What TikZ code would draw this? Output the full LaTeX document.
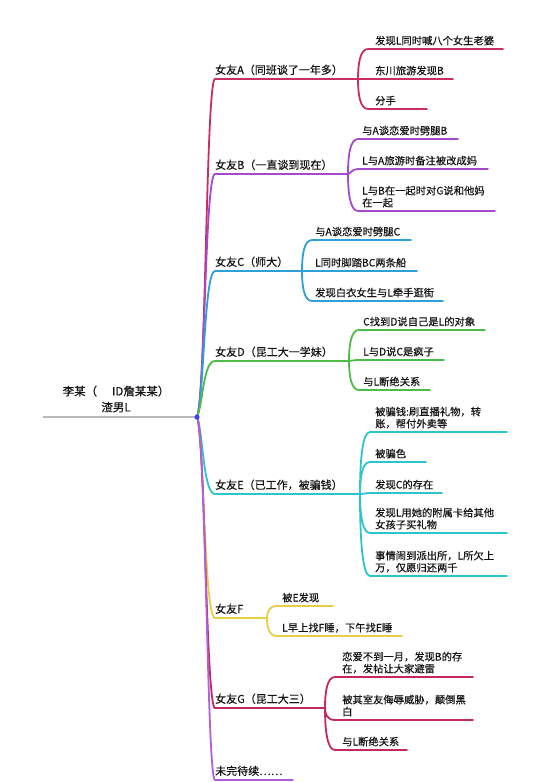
\documentclass[tikz,border=0pt]{standalone}
\usepackage{fontspec}
\setmainfont{Noto Sans CJK SC}[FakeBold=0.35]
\usepackage{xcolor}
\usepackage{tikz}
\usetikzlibrary{positioning, calc}
\definecolor{girlA}{RGB}{200, 45, 100}
\definecolor{girlB}{RGB}{166, 74, 205}
\definecolor{girlC}{RGB}{46, 160, 215}
\definecolor{girlD}{RGB}{77, 187, 71}
\definecolor{girlE}{RGB}{44, 196, 205}
\definecolor{girlF}{RGB}{230, 207, 69}
\definecolor{girlG}{RGB}{195, 40, 95}
\definecolor{tbc}{RGB}{178, 95, 217}
\definecolor{inktext}{RGB}{20, 20, 20}

\begin{document}
\begin{tikzpicture}[x=1pt, y=-1pt,
    link/.style={line width=1.8pt, line cap=round},
    branch/.style={anchor=base west, inner sep=0pt, text=inktext,
                   font=\fontsize{11}{13}\selectfont},
    leaf/.style={anchor=base west, inner sep=0pt, text=inktext, align=left,
                 font=\fontsize{10.3}{12}\selectfont}]
    \fill[white] (0,0) rectangle (549,782);
    \useasboundingbox (0,0) rectangle (549,782);

    % Root
    \coordinate (hub) at (197,417);
    \coordinate (rootL) at (43,417);
    \draw[line width=1.8pt, gray!55] (rootL) -- (hub);
    \node[align=center, inner sep=0pt, text=inktext,
          font=\fontsize{11.5}{16}\selectfont] (root) at (116,399)
        {李某（\hspace{1.3em}ID詹某某）\\渣男L};

    % 女友A
    \coordinate (hubA) at (358,79);
    \coordinate (a1e) at (503,49);
    \coordinate (a2e) at (453,79);
    \coordinate (a3e) at (427,109);
    \draw[link, girlA] (hub) .. controls (206,397) and (206,79) .. (215,79) -- (hubA);
    \node[branch] (brA) at (215,74) {女友A（同班谈了一年多）};
    \draw[link, girlA] (hubA) .. controls (358,64) and (360,49) .. (368,49) -- (a1e);
    \draw[link, girlA] (hubA) -- (a2e);
    \draw[link, girlA] (hubA) .. controls (358,94) and (360,109) .. (368,109) -- (a3e);
    \node[leaf] (a1) at (375,44.5) {发现L同时喊八个女生老婆};
    \node[leaf] (a2) at (375,74.5) {东川旅游发现B};
    \node[leaf] (a3) at (375,104.5) {分手};

    % 女友B
    \coordinate (hubB) at (348,174);
    \coordinate (b1e) at (458,139);
    \coordinate (b2e) at (488,169);
    \coordinate (b3e) at (495,211);
    \draw[link, girlB] (hub) .. controls (205,397) and (205,174) .. (215,174) -- (hubB);
    \node[branch] (brB) at (215,169) {女友B（一直谈到现在）};
    \draw[link, girlB] (hubB) .. controls (348,156) and (350,139) .. (358,139) -- (b1e);
    \draw[link, girlB] (hubB) .. controls (350,174) and (352,169) .. (358,169) -- (b2e);
    \draw[link, girlB] (hubB) .. controls (348,192) and (350,211) .. (358,211) -- (b3e);
    \node[leaf] (b1) at (362,134.5) {与A谈恋爱时劈腿B};
    \node[leaf] (b2) at (362,164.5) {L与A旅游时备注被改成妈};
    \node[leaf] (b3) at (362,206.5) {L与B在一起时对G说和他妈\\在一起};

    % 女友C
    \coordinate (hubC) at (302,271);
    \coordinate (c1e) at (411,240);
    \coordinate (c2e) at (417,271);
    \coordinate (c3e) at (443,301);
    \draw[link, girlC] (hub) .. controls (204,400) and (204,271) .. (215,271) -- (hubC);
    \node[branch] (brC) at (215,266) {女友C（师大）};
    \draw[link, girlC] (hubC) .. controls (302,255) and (304,240) .. (312,240) -- (c1e);
    \draw[link, girlC] (hubC) -- (c2e);
    \draw[link, girlC] (hubC) .. controls (302,286) and (304,301) .. (312,301) -- (c3e);
    \node[leaf] (c1) at (315,235.5) {与A谈恋爱时劈腿C};
    \node[leaf] (c2) at (315,266.5) {L同时脚踏BC两条船};
    \node[leaf] (c3) at (315,296.5) {发现白衣女生与L牵手逛街};

    % 女友D
    \coordinate (hubD) at (349,361);
    \coordinate (d1e) at (485,330);
    \coordinate (d2e) at (444,360);
    \coordinate (d3e) at (430,390);
    \draw[link, girlD] (hub) .. controls (203,405) and (203,361) .. (215,361) -- (hubD);
    \node[branch] (brD) at (215,356) {女友D（昆工大一学妹）};
    \draw[link, girlD] (hubD) .. controls (349,345) and (351,330) .. (359,330) -- (d1e);
    \draw[link, girlD] (hubD) .. controls (351,361) and (353,360) .. (359,360) -- (d2e);
    \draw[link, girlD] (hubD) .. controls (349,375) and (351,390) .. (359,390) -- (d3e);
    \node[leaf] (d1) at (363,325.5) {C找到D说自己是L的对象};
    \node[leaf] (d2) at (363,355.5) {L与D说C是疯子};
    \node[leaf] (d3) at (363,385.5) {与L断绝关系};

    % 女友E
    \coordinate (hubE) at (360,494);
    \coordinate (e1e) at (507,432);
    \coordinate (e2e) at (426,462);
    \coordinate (e3e) at (442,493);
    \coordinate (e4e) at (507,533);
    \coordinate (e5e) at (507,576);
    \draw[link, girlE] (hub) .. controls (203,430) and (203,494) .. (215,494) -- (hubE);
    \node[branch] (brE) at (215,489) {女友E（已工作，被骗钱）};
    \draw[link, girlE] (hubE) .. controls (360,463) and (362,432) .. (370,432) -- (e1e);
    \draw[link, girlE] (hubE) .. controls (360,478) and (362,462) .. (370,462) -- (e2e);
    \draw[link, girlE] (hubE) .. controls (364,494) and (366,493) .. (370,493) -- (e3e);
    \draw[link, girlE] (hubE) .. controls (360,513) and (362,533) .. (370,533) -- (e4e);
    \draw[link, girlE] (hubE) .. controls (360,535) and (362,576) .. (370,576) -- (e5e);
    \node[leaf] (e1) at (375,427.5) {被骗钱:刷直播礼物，转\\账，帮付外卖等};
    \node[leaf] (e2) at (375,457.5) {被骗色};
    \node[leaf] (e3) at (375,488.5) {发现C的存在};
    \node[leaf] (e4) at (375,528.5) {发现L用她的附属卡给其他\\女孩子买礼物};
    \node[leaf] (e5) at (375,571.5) {事情闹到派出所，L所欠上\\万，仅愿归还两千};

    % 女友F
    \coordinate (hubF) at (267,618);
    \coordinate (f1e) at (333,606);
    \coordinate (f2e) at (402,636);
    \draw[link, girlF] (hub) .. controls (204,434) and (204,618) .. (215,618) -- (hubF);
    \node[branch] (brF) at (215,613) {女友F};
    \draw[link, girlF] (hubF) .. controls (267,612) and (269,606) .. (277,606) -- (f1e);
    \draw[link, girlF] (hubF) .. controls (267,627) and (269,636) .. (277,636) -- (f2e);
    \node[leaf] (f1) at (282,601.5) {被E发现};
    \node[leaf] (f2) at (282,631.5) {L早上找F睡，下午找E睡};

    % 女友G
    \coordinate (hubG) at (325,708);
    \coordinate (g1e) at (473,677);
    \coordinate (g2e) at (473,720);
    \coordinate (g3e) at (407,750);
    \draw[link, girlG] (hub) .. controls (205,437) and (206,708) .. (215,708) -- (hubG);
    \node[branch] (brG) at (215,703) {女友G（昆工大三）};
    \draw[link, girlG] (hubG) .. controls (325,692) and (327,677) .. (335,677) -- (g1e);
    \draw[link, girlG] (hubG) .. controls (325,714) and (327,720) .. (335,720) -- (g2e);
    \draw[link, girlG] (hubG) .. controls (325,729) and (327,750) .. (335,750) -- (g3e);
    \node[leaf] (g1) at (342,672.5) {恋爱不到一月，发现B的存\\在，发帖让大家避雷};
    \node[leaf] (g2) at (342,715.5) {被其室友侮辱威胁，颠倒黑\\白};
    \node[leaf] (g3) at (342,745.5) {与L断绝关系};

    % 未完待续
    \coordinate (tbcE) at (293,780);
    \draw[link, tbc] (hub) .. controls (206,437) and (207,780) .. (215,780) -- (tbcE);
    \node[branch] (brT) at (215,775) {未完待续……};

    \fill[blue!75] (hub) circle (2.6pt);
\end{tikzpicture}
\end{document}
